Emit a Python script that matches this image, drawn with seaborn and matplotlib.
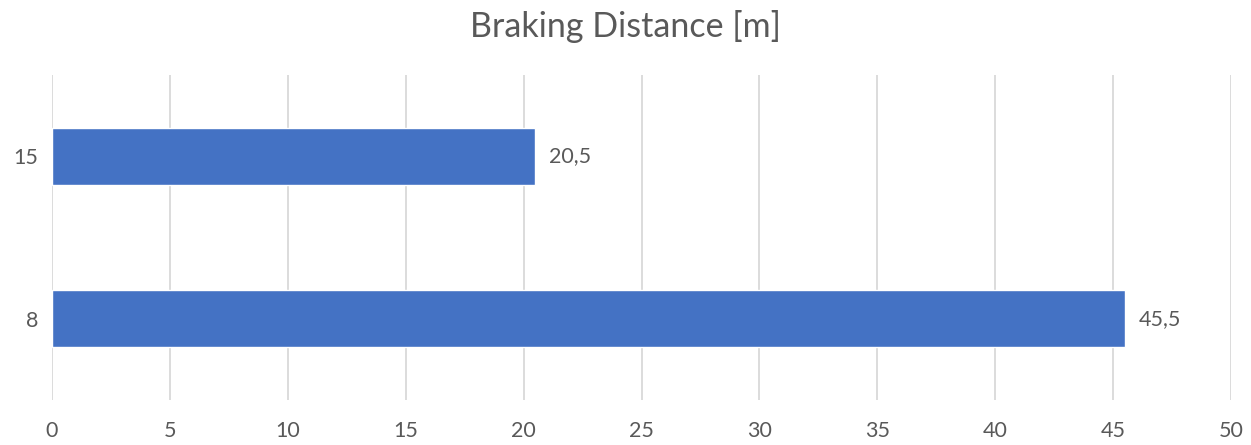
import pandas as pd
import matplotlib.pyplot as plt
import seaborn as sns

# Chart data
speeds = ['15', '8']
distances = [20.5, 45.5]
x_ticks = [0, 5, 10, 15, 20, 25, 30, 35, 40, 45, 50]

df = pd.DataFrame({'speed': speeds, 'distance': distances})

sns.set_style("white")
plt.rcParams['font.family'] = ['Lato', 'DejaVu Sans']

text_color = '#595959'

fig = plt.figure(figsize=(12.51, 4.45), dpi=100)
ax = fig.add_axes([52 / 1251, 45 / 445, (1231 - 52) / 1251, 325 / 445])

sns.barplot(data=df, x='distance', y='speed', orient='h', order=speeds,
            color='#4472C4', width=0.35, saturation=1, ax=ax, zorder=3)

# Value labels with comma decimal separator
ax.bar_label(ax.containers[0],
             labels=[f'{v:.1f}'.replace('.', ',') for v in distances],
             padding=10, fontsize=15.5, color=text_color)

ax.set_xlim(0, 50)
ax.set_xticks(x_ticks)
ax.set_xticklabels([str(t) for t in x_ticks])
ax.grid(axis='x', color='#d9d9d9', linewidth=1.3, zorder=0)
ax.grid(axis='y', visible=False)
for s in ax.spines.values():
    s.set_visible(False)

ax.tick_params(axis='both', length=0, labelsize=15.5, labelcolor=text_color)
ax.tick_params(axis='x', pad=15)
ax.tick_params(axis='y', pad=10)
ax.set_xlabel('')
ax.set_ylabel('')

fig.suptitle('Braking Distance [m]', y=0.978, va='top', fontsize=24.5, color=text_color)

plt.savefig('out.png', dpi=100)
